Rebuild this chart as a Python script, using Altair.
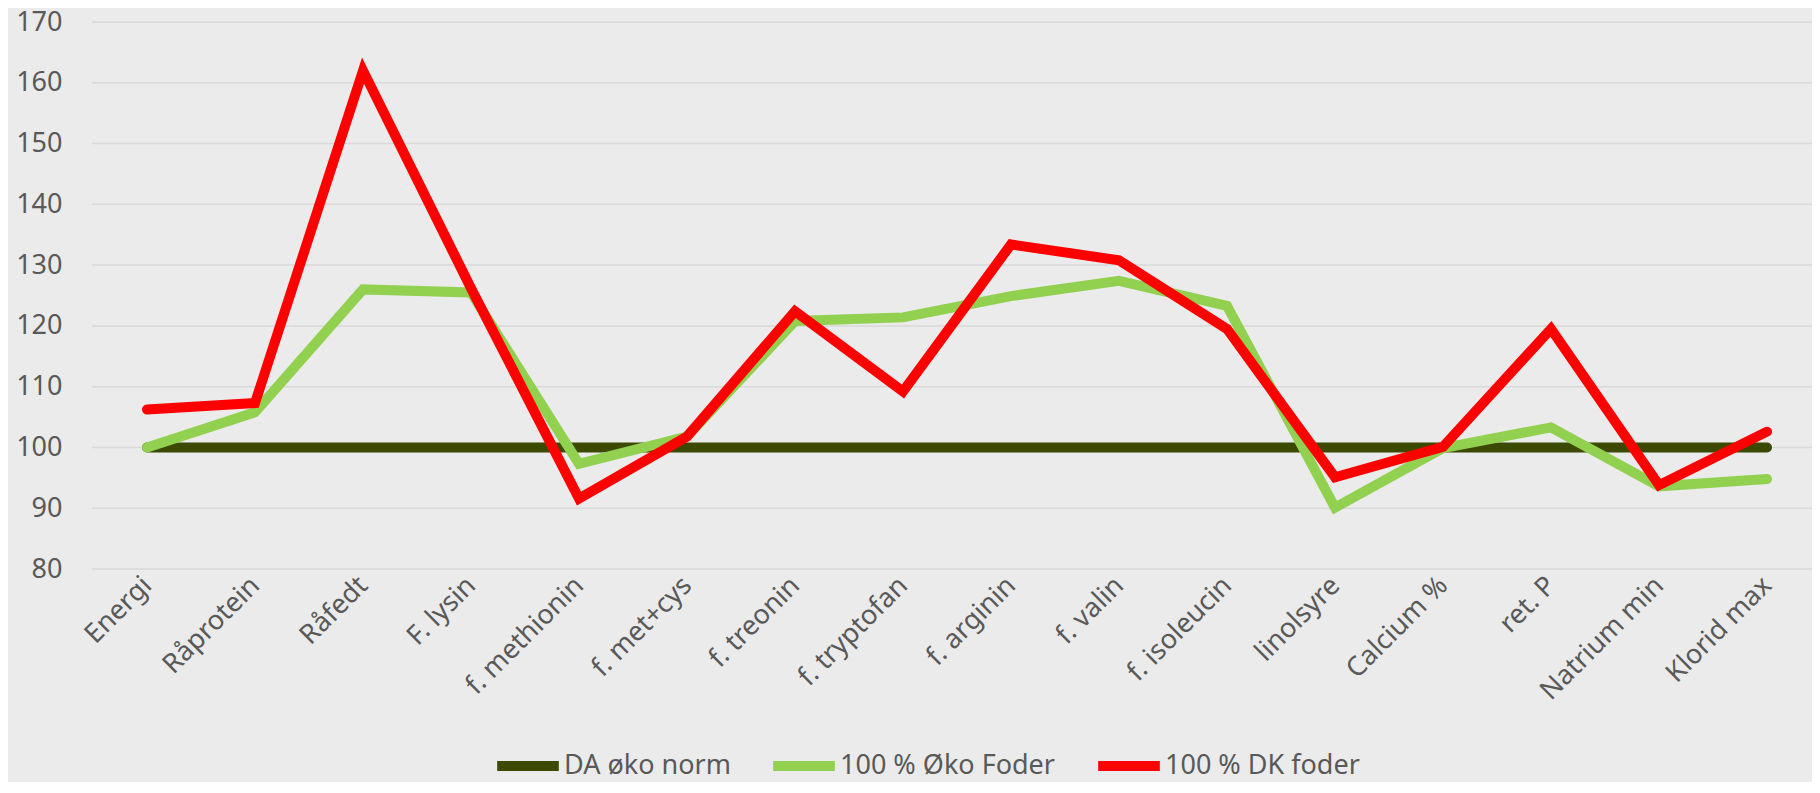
import altair as alt
import pandas as pd

categories = ["Energi", "Råprotein", "Råfedt", "F. lysin", "f. methionin", "f. met+cys",
              "f. treonin", "f. tryptofan", "f. arginin", "f. valin", "f. isoleucin",
              "linolsyre", "Calcium %", "ret. P", "Natrium min", "Klorid max"]
da_norm = [100, 100, 100, 100, 100, 100, 100, 100, 100, 100, 100, 100, 100, 100, 100, 100]
oko_foder = [100, 105.8, 126.0, 125.5, 97.3, 101.8, 120.8, 121.4, 124.9, 127.4, 123.3,
             90.1, 99.9, 103.3, 93.6, 94.8]
dk_foder = [106.25, 107.3, 162.0, 126.2, 91.6, 101.8, 122.4, 109.2, 133.4, 130.8, 119.5,
            95.1, 100.1, 119.5, 93.8, 102.6]
y_ticks = [80, 90, 100, 110, 120, 130, 140, 150, 160, 170]

series_names = ["DA øko norm", "100 % Øko Foder", "100 % DK foder"]
series_colors = ["#3B4A00", "#92D050", "#FF0000"]

rows = []
for name, vals in zip(series_names, [da_norm, oko_foder, dk_foder]):
    for c, v in zip(categories, vals):
        rows.append({"cat": c, "value": v, "series": name})
df = pd.DataFrame(rows)
grid_df = pd.DataFrame({"value": y_ticks})

FONT = "Noto Sans"
TXT = "#595959"
W, H = 1716, 547

yscale = alt.Scale(domain=[80, 170], nice=False, zero=False)

x = alt.X("cat:N", sort=categories, title=None,
          scale=alt.Scale(type="point", range=[55, 1675], padding=0),
          axis=alt.Axis(labelAngle=315, labelAlign="right", labelBaseline="middle",
                        labelFontSize=27, labelColor=TXT, labelFont=FONT,
                        labelPadding=12, ticks=False, domain=False, grid=False))
y = alt.Y("value:Q", title=None, scale=yscale,
          axis=alt.Axis(values=y_ticks, labelFontSize=27, labelColor=TXT,
                        labelFont=FONT, labelPadding=30, ticks=False, domain=False,
                        grid=False))
color = alt.Color("series:N", sort=series_names,
                  scale=alt.Scale(domain=series_names, range=series_colors),
                  legend=alt.Legend(title=None, orient="none", direction="horizontal",
                                    legendX=400, legendY=708, padding=0,
                                    symbolType="stroke", symbolSize=3800,
                                    symbolStrokeWidth=10, labelFontSize=27,
                                    labelFont=FONT, labelColor=TXT, labelOffset=0,
                                    labelLimit=500, columnPadding=22, symbolOffset=0))

grid = alt.Chart(grid_df).mark_rule(color="#D9D9D9", strokeWidth=1.5).encode(
    y=alt.Y("value:Q", scale=yscale, title=None,
            axis=alt.Axis(values=y_ticks, labelFontSize=27, labelColor=TXT,
                          labelFont=FONT, labelPadding=30, ticks=False, domain=False,
                          grid=False)),
    x=alt.value(0), x2=alt.value(W + 4),
)

layers = [grid]
for name in series_names:
    layers.append(
        alt.Chart(df).transform_filter(alt.datum.series == name)
        .mark_line(strokeWidth=10, strokeCap="round", strokeJoin="miter")
        .encode(x=x, y=y, color=color)
    )

chart = alt.layer(*layers).properties(
    width=W, height=H,
    padding={"left": 84, "top": 14, "right": 4, "bottom": 213},
    autosize=alt.AutoSizeParams(type="none"),
    background="#EBEBEB",
).configure_view(stroke=None, fill="#EBEBEB")

chart.save("out.html", embed_options={"renderer": "svg", "actions": False})
